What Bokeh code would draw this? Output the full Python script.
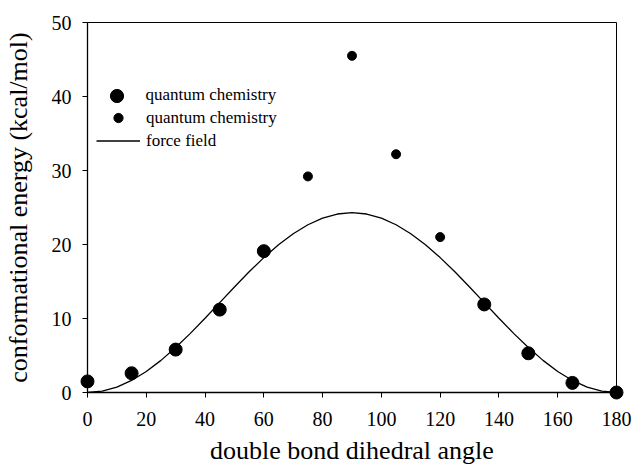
from bokeh.plotting import figure
from bokeh.models import Range1d, FixedTicker, Legend, LegendItem
from bokeh.embed import file_html
from bokeh.resources import INLINE

# Data
qc_big_angle = [0, 15, 30, 45, 60, 135, 150, 165, 180]
qc_big_energy = [1.5, 2.6, 5.8, 11.2, 19.1, 11.9, 5.3, 1.3, 0.0]

qc_small_angle = [75, 90, 105, 120]
qc_small_energy = [29.2, 45.5, 32.2, 21.0]

ff_angle = [0, 5, 10, 15, 20, 25, 30, 35, 40, 45, 50, 55, 60, 65, 70, 75, 80, 85, 90,
            95, 100, 105, 110, 115, 120, 125, 130, 135, 140, 145, 150, 155, 160, 165,
            170, 175, 180]
ff_energy = [0.0, 0.18, 0.73, 1.63, 2.84, 4.34, 6.08, 7.99, 10.04, 12.15, 14.26, 16.31,
             18.23, 19.96, 21.46, 22.67, 23.57, 24.12, 24.3,
             24.12, 23.57, 22.67, 21.46, 19.96, 18.23, 16.31, 14.26, 12.15, 10.04, 7.99,
             6.08, 4.34, 2.84, 1.63, 0.73, 0.18, 0.0]

x_ticks = [0, 20, 40, 60, 80, 100, 120, 140, 160, 180]
y_ticks = [0, 10, 20, 30, 40, 50]

FONT = "Liberation Serif"

p = figure(width=634, height=470, output_backend="svg", toolbar_location=None,
           x_range=Range1d(0, 180), y_range=Range1d(0, 50),
           min_border_left=86, min_border_right=18, min_border_top=22, min_border_bottom=78)

p.background_fill_color = "white"
p.border_fill_color = "white"
p.outline_line_color = "black"
p.outline_line_width = 1
p.xgrid.grid_line_color = None
p.ygrid.grid_line_color = None

r_line = p.line(ff_angle, ff_energy, line_color="black", line_width=1.3)
r_big = p.scatter(qc_big_angle, qc_big_energy, size=13, fill_color="black",
                  line_color="black", level="overlay")
r_small = p.scatter(qc_small_angle, qc_small_energy, size=9, fill_color="black",
                    line_color="black", level="overlay")

for ax in (p.xaxis[0], p.yaxis[0]):
    ax.axis_line_color = "black"
    ax.axis_line_width = 1.3
    ax.major_tick_line_color = "black"
    ax.major_tick_in = 0
    ax.major_tick_out = 5
    ax.minor_tick_line_color = None
    ax.major_label_text_font = FONT
    ax.major_label_text_font_size = "20px"
    ax.major_label_text_color = "black"
    ax.axis_label_text_font = FONT
    ax.axis_label_text_font_size = "26px"
    ax.axis_label_text_font_style = "normal"
    ax.axis_label_text_color = "black"

p.xaxis[0].ticker = FixedTicker(ticks=x_ticks)
p.yaxis[0].ticker = FixedTicker(ticks=y_ticks)
p.xaxis[0].axis_label = "double bond dihedral angle"
p.yaxis[0].axis_label = "conformational energy (kcal/mol)"
p.xaxis[0].major_label_standoff = 14
p.xaxis[0].axis_label_standoff = 7
p.yaxis[0].major_label_standoff = 11
p.yaxis[0].axis_label_standoff = 16

common = dict(padding=0, margin=0, spacing=0, border_line_color=None,
              background_fill_alpha=0, label_text_font=FONT,
              label_text_font_size="17px", label_text_color="black")

legA = Legend(items=[LegendItem(label="quantum chemistry", renderers=[r_big])],
              location=(12.5, 280.5), glyph_width=33, glyph_height=33,
              label_standoff=13, label_height=33, **common)
legB = Legend(items=[LegendItem(label="quantum chemistry", renderers=[r_small]),
                     LegendItem(label="force field", renderers=[r_line])],
              location=(9, 240), glyph_width=44, glyph_height=23,
              label_standoff=6, label_height=23, **common)
p.add_layout(legA)
p.add_layout(legB)

open("out.html", "w").write(file_html(p, INLINE))
